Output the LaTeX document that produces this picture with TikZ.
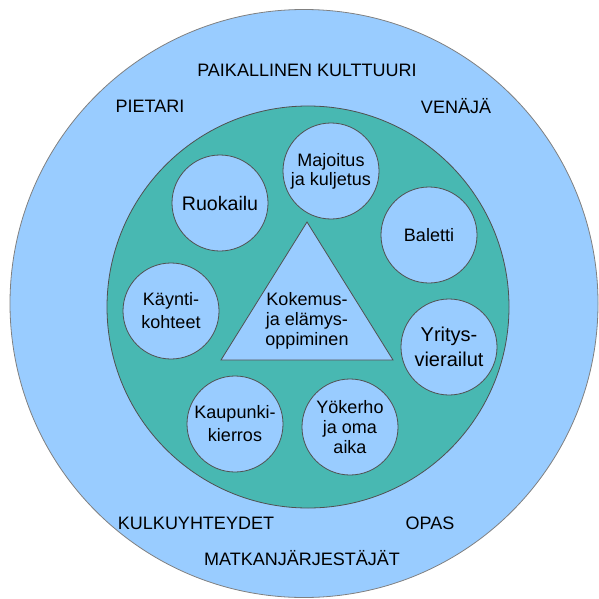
\documentclass[tikz,border=0pt]{standalone}
\usepackage{fontspec}
\setmainfont{Liberation Sans}
\usepackage{tikz}
\definecolor{skyfill}{RGB}{153,204,255}
\definecolor{tealfill}{RGB}{72,184,178}
\definecolor{rimgray}{RGB}{80,80,80}

\begin{document}
\begin{tikzpicture}[x=0.5pt, y=-0.5pt,
    topic/.style={circle, draw=rimgray, thin, fill=skyfill, minimum size=48pt,
        inner sep=0pt, align=center, font=\fontsize{9pt}{11.5pt}\selectfont},
    outerlabel/.style={font=\fontsize{9pt}{10pt}\selectfont}]
    \useasboundingbox (0,0) rectangle (599,599);

    % Outer ring (context)
    \filldraw[fill=skyfill, draw=gray] (304,303.5) circle (294);
    \node (kulttuuri) at (307,70) [outerlabel] {PAIKALLINEN KULTTUURI};
    \node (pietari) at (150,106) [outerlabel] {PIETARI};
    \node (venaja) at (456,106) [outerlabel] {VENÄJÄ};
    \node (kulku) at (196,523) [outerlabel] {KULKUYHTEYDET};
    \node (opas) at (430,523) [outerlabel] {OPAS};
    \node (matkanj) at (302,558) [outerlabel] {MATKANJÄRJESTÄJÄT};

    % Inner disc (programme)
    \filldraw[fill=tealfill, draw=rimgray] (308,307) circle (201);

    % Centre triangle
    \filldraw[fill=skyfill, draw=rimgray] (307,222) -- (221,360) -- (393,360) -- cycle;
    \node (oppiminen) at (307,321) [align=center, font=\fontsize{9pt}{9.9pt}\selectfont]
        {Kokemus-\\ja elämys-\\oppiminen};

    % Programme items
    \node (ruokailu) at (220,203) [topic, font=\fontsize{9.8pt}{11pt}\selectfont] {Ruokailu};
    \node (majoitus) at (331,171) [topic, font=\fontsize{9pt}{9.4pt}\selectfont] {Majoitus\\ja kuljetus};
    \node (baletti) at (429,235) [topic] {Baletti};
    \node (kaynti) at (171,311) [topic] {Käynti-\\kohteet};
    \node (yritys) at (449,347) [topic, font=\fontsize{10pt}{12.8pt}\selectfont] {Yritys-\\vierailut};
    \node (kaupunki) at (235,424) [topic] {Kaupunki-\\kierros};
    \node (yokerho) at (350,427) [topic, font=\fontsize{9pt}{10pt}\selectfont] {Yökerho\\ja oma\\aika};
\end{tikzpicture}
\end{document}
